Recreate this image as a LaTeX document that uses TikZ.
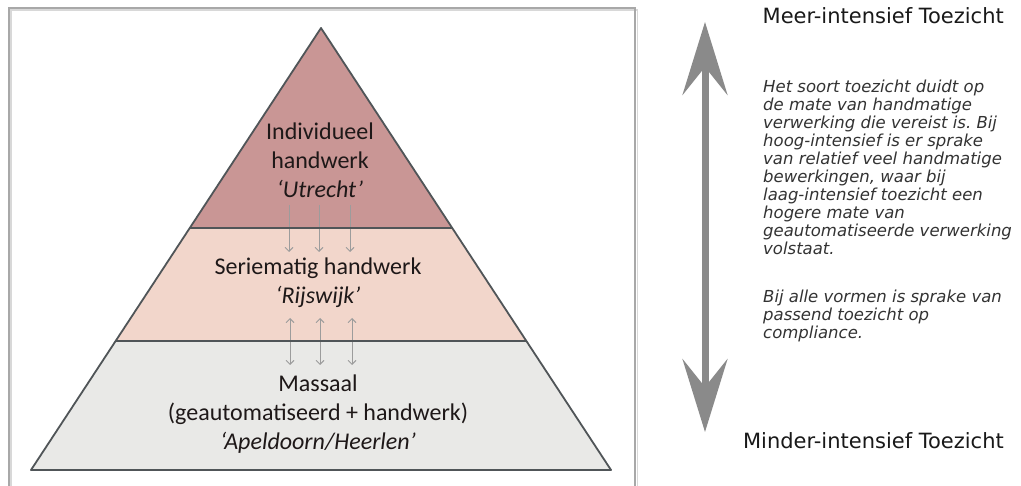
\documentclass[tikz,border=0pt]{standalone}
\usepackage{fontspec}
\setmainfont{Carlito}
\newfontfamily\dvfont{DejaVu Sans}
\usetikzlibrary{arrows.meta}
\frenchspacing
\definecolor{topc}{HTML}{C99695}
\definecolor{midc}{HTML}{F2D6CB}
\definecolor{botc}{HTML}{E9E9E7}
\definecolor{edgec}{HTML}{505558}
\definecolor{framec}{HTML}{A8A8A8}
\definecolor{bigarrowc}{HTML}{8A8A8A}
\definecolor{smallarrowc}{HTML}{9C9C9C}
\definecolor{layertextc}{HTML}{1E1818}
\begin{document}
\begin{tikzpicture}[x=1pt,y=-1pt,
  layertext/.style={font=\fontsize{24}{29}\selectfont, text=layertextc, align=center, inner sep=0pt},
  headtext/.style={font=\dvfont\fontsize{21}{24}\selectfont, text=black!90, inner sep=0pt},
  paratext/.style={font=\dvfont\itshape\fontsize{16.5}{18}\selectfont\frenchspacing, text=black!80, align=left, inner sep=0pt},
  smallarrow/.style={draw=smallarrowc, line width=0.9pt},
  smalltip/.tip={Straight Barb[length=4pt,width=8pt]},
  bigtip/.tip={Stealth[length=73pt,width=45pt,inset=28pt]},
  layeredge/.style={draw=edgec, line width=1.6pt}
]
\useasboundingbox (0,0) rectangle (1021,486);
\clip (0,0) rectangle (1021,486);
\fill[white] (0,0) rectangle (1021,486);
% frame with light shadow
\draw[framec!45, line width=1.6pt] (11,10) rectangle (637.5,500);
\draw[framec, line width=1.3pt] (9,8) rectangle (635,500);
% pyramid corners
\coordinate (apex) at (321,28);
\coordinate (l1) at (190,228);
\coordinate (r1) at (452,228);
\coordinate (l2) at (116,341);
\coordinate (r2) at (526,341);
\coordinate (l3) at (31,470);
\coordinate (r3) at (611,470);
\fill[topc] (apex) -- (r1) -- (l1) -- cycle;
\fill[midc] (l1) -- (r1) -- (r2) -- (l2) -- cycle;
\fill[botc] (l2) -- (r2) -- (r3) -- (l3) -- cycle;
% small arrows between layers
\foreach \i/\x in {1/289,2/319,3/350}{
  \coordinate (da\i) at (\x,205);
  \coordinate (db\i) at (\x,252);
  \draw[smallarrow, -smalltip] (da\i) -- (db\i);
}
\foreach \i/\x in {1/290,2/320,3/352}{
  \coordinate (ua\i) at (\x,318);
  \coordinate (ub\i) at (\x,365);
  \draw[smallarrow, smalltip-smalltip] (ua\i) -- (ub\i);
}
\draw[layeredge] (l1) -- (r1);
\draw[layeredge] (l2) -- (r2);
\draw[layeredge, line width=1.8pt, line join=round] (apex) -- (r3) -- (l3) -- cycle;
% layer texts
\node[layertext] (t1) at (320,160) {Individueel\\handwerk\\\textit{‘Utrecht’}};
\node[layertext] (t2) at (318,283) {Seriematig handwerk\\\textit{‘Rijswijk’}};
\node[layertext] (t3) at (318,414) {Massaal\\(geautomatiseerd + handwerk)\\\textit{‘Apeldoorn/Heerlen’}};
% big double arrow
\coordinate (bigtop) at (705,22);
\coordinate (bigbot) at (705,432);
\draw[bigarrowc, line width=7pt, bigtip-bigtip] (bigbot) -- (bigtop);
% headings
\node[headtext, anchor=east] (meer) at (1004,16) {Meer-intensief Toezicht};
\node[headtext, anchor=east] (minder) at (1004,441) {Minder-intensief Toezicht};
% paragraphs
\node[paratext, anchor=north west] (p1) at (763,80) {Het soort toezicht duidt op\\de mate van handmatige\\verwerking die vereist is. Bij\\hoog-intensief is er sprake\\van relatief veel handmatige\\bewerkingen, waar bij\\laag-intensief toezicht een\\hogere mate van\\geautomatiseerde verwerking\\volstaat.};
\node[paratext, anchor=north west] (p2) at (763,290) {Bij alle vormen is sprake van\\passend toezicht op\\compliance.};
\end{tikzpicture}
\end{document}
